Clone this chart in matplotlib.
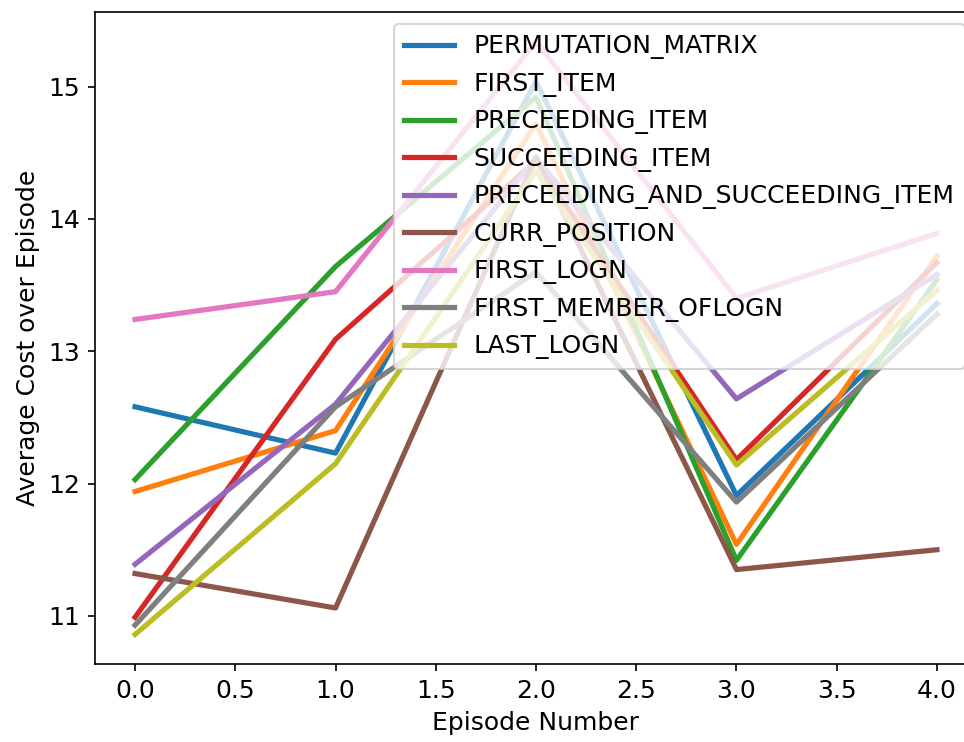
import matplotlib
matplotlib.use("Agg")
import matplotlib.pyplot as plt

episodes = [0, 1, 2, 3, 4]

permutation_matrix = [12.58, 12.23, 15.04, 11.91, 13.36]
first_item = [11.94, 12.40, 14.72, 11.54, 13.72]
preceeding_item = [12.03, 13.64, 14.92, 11.42, 13.54]
succeeding_item = [10.99, 13.09, 14.44, 12.18, 13.67]
preceeding_and_succeeding_item = [11.39, 12.60, 14.46, 12.64, 13.58]
curr_position = [11.32, 11.06, 14.47, 11.35, 11.50]
first_logn = [13.24, 13.45, 15.34, 13.40, 13.89]
first_member_oflogn = [10.93, 12.58, 13.60, 11.86, 13.28]
last_logn = [10.86, 12.15, 14.36, 12.14, 13.46]

series = [
    ("PERMUTATION_MATRIX", permutation_matrix),
    ("FIRST_ITEM", first_item),
    ("PRECEEDING_ITEM", preceeding_item),
    ("SUCCEEDING_ITEM", succeeding_item),
    ("PRECEEDING_AND_SUCCEEDING_ITEM", preceeding_and_succeeding_item),
    ("CURR_POSITION", curr_position),
    ("FIRST_LOGN", first_logn),
    ("FIRST_MEMBER_OFLOGN", first_member_oflogn),
    ("LAST_LOGN", last_logn),
]

plt.rcParams["font.size"] = 12

fig, ax = plt.subplots(figsize=(964 / 150, 742 / 150), dpi=150)
fig.subplots_adjust(left=0.0985, right=1.0135, top=0.984, bottom=0.105)

for name, values in series:
    ax.plot(episodes, values, label=name, linewidth=2.5)

ax.set_xlabel("Episode Number")
ax.set_ylabel("Average Cost over Episode")
ax.set_xticks([0, 0.5, 1, 1.5, 2, 2.5, 3, 3.5, 4])
ax.legend(loc="upper right")

fig.savefig("out.png", dpi=150)
